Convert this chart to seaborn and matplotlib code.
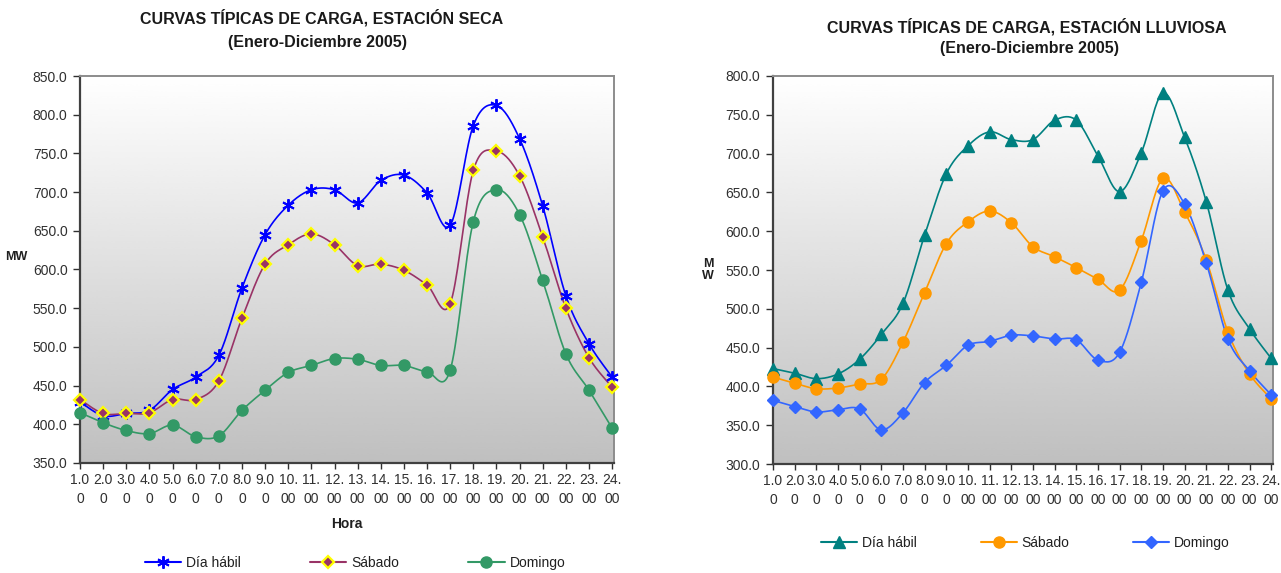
import numpy as np
import pandas as pd
import matplotlib
matplotlib.use("Agg")
import matplotlib.pyplot as plt
from matplotlib.lines import Line2D
import seaborn as sns

# ---- data (MW by hour) ----
hours = list(range(1, 25))
hour_labels = [f"{h}.00" for h in hours]

seca_habil = [429, 411, 414, 418, 445, 461, 489, 576, 645, 683, 703, 703, 686, 715,
              722, 699, 657, 786, 812, 769, 682, 566, 504, 461]
seca_sabado = [432, 414, 414, 415, 432, 432, 456, 537, 607, 632, 646, 632, 605, 607,
               599, 580, 556, 728, 753, 721, 642, 550, 486, 448]
seca_domingo = [415, 402, 392, 388, 399, 384, 385, 418, 444, 467, 476, 485, 484, 476,
                476, 468, 470, 662, 703, 671, 586, 491, 444, 395]

lluv_habil = [423, 417, 410, 416, 435, 467, 507, 595, 674, 710, 728, 718, 718, 743,
              743, 697, 651, 701, 778, 721, 638, 524, 474, 436]
lluv_sabado = [412, 404, 397, 398, 403, 409, 457, 521, 584, 612, 626, 611, 580, 567,
               553, 538, 524, 588, 668, 625, 563, 470, 416, 384]
lluv_domingo = [382, 374, 367, 370, 371, 344, 366, 405, 427, 453, 458, 466, 465, 461,
                460, 434, 444, 534, 652, 635, 559, 461, 420, 389]

series_names = ["Día hábil", "Sábado", "Domingo"]

sns.set_theme(style="white")
plt.rcParams["font.family"] = ["Liberation Sans", "DejaVu Sans"]


def smooth_curve(x, y, n=20):
    """Bezier smoothing through every point (spreadsheet-style smoothed line)."""
    pts = np.column_stack([np.asarray(x, float), np.asarray(y, float)])
    padded = np.vstack([pts[0], pts, pts[-1]])
    t = np.linspace(0, 1, n)[:, None]
    out = []
    for i in range(len(pts) - 1):
        p0, p1, p2, p3 = padded[i], padded[i + 1], padded[i + 2], padded[i + 3]
        c1 = p1 + (p2 - p0) / 6.0
        c2 = p2 - (p3 - p1) / 6.0
        seg = ((1 - t) ** 3) * p1 + 3 * ((1 - t) ** 2) * t * c1 + 3 * (1 - t) * t ** 2 * c2 + t ** 3 * p2
        out.append(seg if i == 0 else seg[1:])
    arr = np.vstack(out)
    return pd.DataFrame({"hora": arr[:, 0], "mw": arr[:, 1]})


def gradient_bg(ax):
    grad = np.linspace(1.0, 0.75, 256)[:, None]
    ax.imshow(grad, cmap="gray", vmin=0, vmax=1, aspect="auto",
              extent=(0, 1, 0, 1), transform=ax.transAxes, zorder=0,
              interpolation="bicubic")


def draw_panel(ax, values, styles, ylim, yticks):
    gradient_bg(ax)
    handles = []
    for name, vals, st in zip(series_names, values, styles):
        df = smooth_curve(hours, vals)
        sns.lineplot(data=df, x="hora", y="mw", sort=False, estimator=None,
                     color=st["color"], lw=1.2, ax=ax, zorder=3, legend=False)
        ax.plot(hours, vals, ls="none", marker=st["marker"], ms=st["ms"],
                mfc=st["mfc"], mec=st["mec"], mew=st["mew"], zorder=4, clip_on=False)
        handles.append(Line2D([0], [0], color=st["color"], lw=1.5, marker=st["marker"],
                              ms=st["ms"], mfc=st["mfc"], mec=st["mec"], mew=st["mew"],
                              label=name))
    ax.set_xlim(1, 24.08)
    ax.set_ylim(*ylim)
    ax.set_yticks(yticks)
    ax.set_yticklabels([f"{v:.1f}" for v in yticks])
    ax.set_xticks(hours)
    ax.set_xticklabels([lab[:3] + "\n" + lab[3:] for lab in hour_labels],
                       linespacing=1.45)
    ax.tick_params(axis="both", labelsize=10, colors="#303030", direction="out",
                   length=4, width=1, pad=3)
    ax.tick_params(axis="y", length=5, pad=4)
    ax.tick_params(bottom=True, left=True)
    ax.set_xlabel("")
    ax.set_ylabel("")
    for side in ("top", "right"):
        ax.spines[side].set_color("#8c8c8c")
        ax.spines[side].set_linewidth(1.4)
    for side in ("left", "bottom"):
        ax.spines[side].set_color("#404040")
        ax.spines[side].set_linewidth(1.6)
    return handles


fig = plt.figure(figsize=(12.81, 5.73), dpi=100)
fig.patch.set_facecolor("white")

ax1 = fig.add_axes([80 / 1281, 1 - 463 / 573, 534 / 1281, 387 / 573])
ax2 = fig.add_axes([773 / 1281, 1 - 464 / 573, 500 / 1281, 388 / 573])

seca_styles = [
    dict(color="#0000FF", marker=(6, 2, 0), ms=9, mfc="#0000FF", mec="#0000FF", mew=1.4),
    dict(color="#993366", marker="D", ms=6.5, mfc="#993366", mec="#FFFF00", mew=1.6),
    dict(color="#339966", marker="o", ms=8, mfc="#339966", mec="#339966", mew=1),
]
lluv_styles = [
    dict(color="#008080", marker="^", ms=8, mfc="#008080", mec="#008080", mew=1),
    dict(color="#FF9900", marker="o", ms=8, mfc="#FF9900", mec="#FF9900", mew=1),
    dict(color="#3366FF", marker="D", ms=6, mfc="#3366FF", mec="#3366FF", mew=1),
]

h1 = draw_panel(ax1, [seca_habil, seca_sabado, seca_domingo], seca_styles,
                (350, 850), list(range(350, 851, 50)))
h2 = draw_panel(ax2, [lluv_habil, lluv_sabado, lluv_domingo], lluv_styles,
                (300, 800), list(range(300, 801, 50)))

leg_kw = dict(ncol=3, frameon=False, fontsize=10, handlelength=2.6,
              handletextpad=0.35, loc="center", borderaxespad=0)
leg1 = ax1.legend(handles=h1, bbox_to_anchor=(0.515, -0.258), columnspacing=5.0, **leg_kw)
leg2 = ax2.legend(handles=h2, bbox_to_anchor=(0.505, -0.204), columnspacing=4.6, **leg_kw)
for leg in (leg1, leg2):
    for txt in leg.get_texts():
        txt.set_color("#202020")

ax1.text(0.5, -0.158, "Hora", transform=ax1.transAxes, ha="center", va="center",
         fontsize=10, fontweight="bold", color="#202020")

fig.text(16 / 1281, 1 - 257 / 573, "MW", ha="center", va="center", fontsize=9,
         fontweight="bold", color="#202020")
fig.text(708 / 1281, 1 - 270 / 573, "M\nW", ha="center", va="center", fontsize=9,
         fontweight="bold", color="#202020", linespacing=1.1)

title_kw = dict(ha="center", va="center", fontsize=11.5, fontweight="bold",
                color="#1a1a1a")
fig.text(322 / 1281, 1 - 18 / 573, "CURVAS TÍPICAS DE CARGA, ESTACIÓN SECA", **title_kw)
fig.text(318 / 1281, 1 - 42 / 573, "(Enero-Diciembre 2005)", **title_kw)
fig.text(1027 / 1281, 1 - 27 / 573, "CURVAS TÍPICAS DE CARGA, ESTACIÓN LLUVIOSA", **title_kw)
fig.text(1030 / 1281, 1 - 49 / 573, "(Enero-Diciembre 2005)", **title_kw)

fig.savefig("out.png", dpi=100, facecolor="white")
